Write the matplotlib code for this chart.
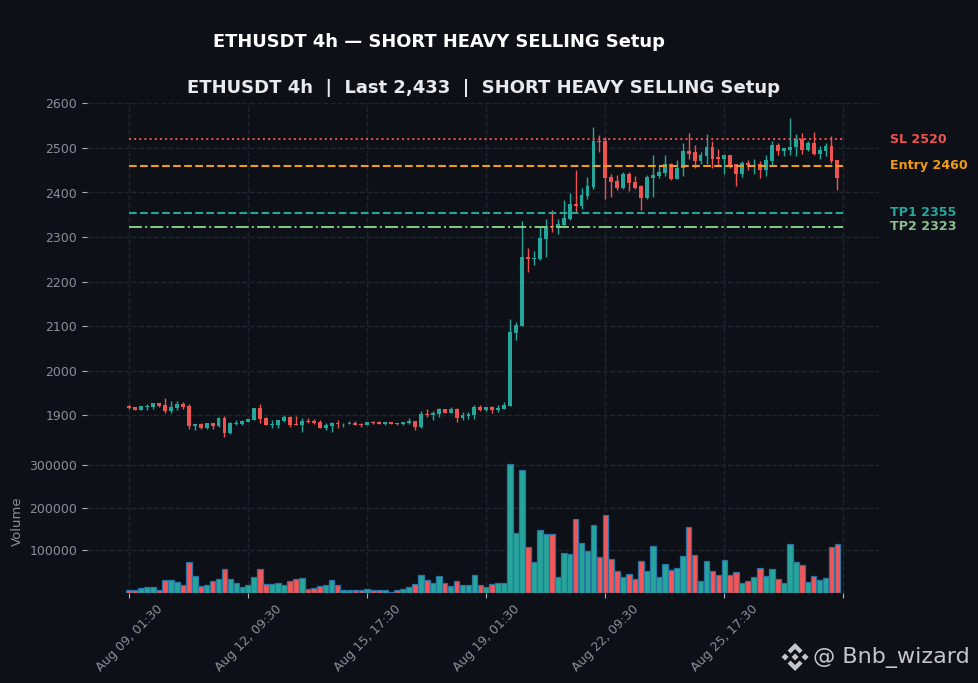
import matplotlib
matplotlib.use('Agg')
import matplotlib.pyplot as plt
from matplotlib.patches import Polygon

# candles, 4h bars from Aug 09 01:30
opens = [1921, 1918.7, 1912, 1918, 1919, 1928, 1923, 1910, 1916.5, 1925,
         1921, 1876, 1880.5, 1871.5, 1883, 1876, 1894, 1860, 1881, 1881,
         1885, 1889.5, 1916.5, 1894, 1878, 1878, 1887, 1896, 1880.5, 1878,
         1887, 1887, 1885, 1871.5, 1876, 1883, 1882, 1880.5, 1883, 1881,
         1878, 1885, 1885, 1880.5, 1885, 1883, 1880.5, 1883, 1887, 1874,
         1903, 1901, 1903, 1914, 1905, 1914, 1894, 1898.5, 1901, 1919,
         1912, 1919, 1912, 1914, 1921, 2085, 2100, 2255, 2251, 2250,
         2296, 2325, 2323, 2327, 2340, 2374, 2370, 2392, 2412, 2516,
         2516, 2434, 2425, 2410, 2441, 2423, 2414, 2387.5, 2432, 2436,
         2443, 2465, 2430, 2454, 2494, 2490, 2470, 2481, 2501, 2478.5,
         2476, 2483, 2465, 2441, 2467, 2460, 2463, 2450, 2470, 2507,
         2492, 2496, 2501, 2521, 2496, 2512, 2487, 2494, 2505, 2472]
closes = [1916.5, 1912, 1921, 1921, 1928, 1921, 1909, 1919, 1925, 1919,
          1876, 1880.5, 1871.5, 1883, 1876, 1894, 1860, 1883, 1883, 1887,
          1892, 1916.5, 1892, 1878, 1880.5, 1889.5, 1896, 1878, 1878, 1887,
          1885, 1883, 1871.5, 1878, 1883, 1880.5, 1883, 1883, 1878, 1879,
          1885, 1883, 1880.5, 1885, 1880.5, 1880.5, 1885, 1887, 1874, 1903,
          1901, 1905, 1914, 1905, 1914, 1894, 1901, 1903, 1919, 1912,
          1919, 1912, 1916.5, 1923, 2087, 2103, 2255, 2250, 2253, 2298,
          2323, 2322, 2329, 2342, 2374, 2370, 2394, 2414, 2516, 2514,
          2432, 2423, 2410, 2441, 2421, 2411, 2387.5, 2434, 2439, 2445,
          2465, 2430, 2456, 2494, 2487, 2470, 2483, 2501, 2476, 2476,
          2483, 2458.5, 2441, 2467, 2461, 2461, 2450, 2472, 2507, 2492,
          2499, 2503, 2521, 2496, 2512, 2487, 2496, 2505, 2470, 2432]
highs = [1922, 1919.5, 1921.5, 1925, 1928, 1928.5, 1938, 1931, 1931, 1929,
         1925, 1880.5, 1882, 1883, 1883, 1896, 1898.5, 1885, 1889, 1889,
         1892, 1917, 1925, 1896, 1889.5, 1889.5, 1901, 1898.5, 1898.5, 1894,
         1894, 1892, 1889.5, 1883, 1885, 1889.5, 1883, 1887, 1887, 1883,
         1885, 1886.5, 1886, 1885, 1885.5, 1883, 1885, 1894, 1887, 1910,
         1914, 1910, 1916.5, 1914, 1919, 1916.5, 1907.5, 1907.5, 1923, 1923,
         1919, 1921, 1923, 1930, 2116, 2109, 2336, 2275, 2269, 2322,
         2340, 2360, 2340, 2383, 2399, 2450, 2410, 2435, 2547, 2530,
         2525, 2442, 2439, 2445, 2445, 2436, 2416, 2439, 2484, 2461,
         2485, 2467, 2473, 2510, 2534, 2507, 2490, 2532, 2516, 2498.5,
         2485, 2483, 2465, 2470, 2473, 2476, 2471, 2485, 2516, 2512,
         2499, 2567, 2532, 2534, 2516, 2536, 2505, 2512, 2527, 2472]
lows = [1915, 1911, 1911.5, 1912, 1914, 1919.5, 1904.5, 1905, 1912, 1914,
        1869, 1867, 1870, 1870, 1869, 1874, 1851, 1858, 1878, 1879,
        1884, 1889, 1883, 1877, 1871.5, 1871.5, 1885, 1874, 1878, 1862.5,
        1883, 1880.5, 1871.5, 1867, 1862.5, 1871.5, 1874, 1880.5, 1878, 1874,
        1878, 1881, 1880, 1877, 1880, 1878, 1878, 1880.5, 1867, 1871.5,
        1896, 1890, 1896, 1904, 1904.5, 1885, 1889.5, 1892, 1892, 1910,
        1910, 1905, 1907.5, 1914, 1921, 2069, 2100, 2222, 2237, 2248,
        2256, 2311, 2307, 2325, 2338, 2357, 2362, 2385, 2408, 2490,
        2386, 2390.5, 2405, 2407, 2404, 2407, 2361, 2385, 2390, 2432,
        2436, 2427.5, 2430, 2436, 2474, 2454, 2465, 2465, 2456, 2461,
        2441, 2456, 2414, 2434, 2450, 2441, 2432, 2436, 2461, 2485,
        2481, 2485, 2481, 2487, 2494, 2485, 2476, 2481, 2467, 2405]
volumes = [6400, 6400, 11200, 13600, 13600, 6400, 30400, 30400, 25600, 18400,
           73600, 40000, 16000, 18400, 28000, 32800, 56800, 32800, 23200, 13600,
           18400, 37600, 56800, 20800, 20800, 23200, 18400, 28000, 32800, 35200,
           8800, 11200, 16000, 18400, 30400, 18400, 6400, 6400, 6400, 6400,
           8700, 6300, 6300, 6300, 3200, 6300, 8700, 13400, 20500, 41900,
           30000, 22900, 39500, 22900, 15800, 27600, 18200, 18200, 41900, 18200,
           13400, 20500, 22900, 22900, 302000, 141400, 288000, 108000, 72700, 148500,
           139000, 139000, 37000, 94000, 91600, 173800, 117700, 98700, 160000, 85000,
           183000, 80800, 52000, 37600, 44800, 32800, 76000, 52000, 109600, 37600,
           68800, 54400, 59200, 85600, 155200, 88000, 28000, 76000, 52000, 42400,
           78400, 42400, 49600, 23200, 28000, 37600, 59200, 40000, 56800, 32800,
           23200, 114400, 73600, 66400, 25600, 40000, 30400, 35200, 107200, 114400]

tick_pos = [0, 20, 40, 60, 80, 100, 120]
tick_labels = ['Aug 09, 01:30', 'Aug 12, 09:30', 'Aug 15, 17:30',
               'Aug 19, 01:30', 'Aug 22, 09:30', 'Aug 25, 17:30', '']
level_names = ['SL 2520', 'Entry 2460', 'TP1 2355', 'TP2 2323']
level_prices = [2520, 2460, 2355, 2323]
level_lines = ['#ef5350', '#f39c12', '#26a69a', '#81c784']
level_texts = ['#ef5350', '#f39c12', '#26a69a', '#8ebd8e']
level_styles = [':', '--', '--', '-.']
level_widths = [1.4, 1.5, 1.5, 1.45]

bg = '#0d1117'
up = '#26a69a'
down = '#ef5350'

fig = plt.figure(figsize=(9.781, 6.831), dpi=100, facecolor=bg)
ax = fig.add_axes([87 / 978, 1 - 450 / 683, 792 / 978, 347 / 683])
ax2 = fig.add_axes([87 / 978, 1 - 593 / 683, 792 / 978, 143 / 683])

x = list(range(len(opens)))
colors = [up if c >= o else down for o, c in zip(opens, closes)]
ax.vlines(x, lows, highs, colors=colors, linewidth=1)
ax.bar(x, [abs(c - o) for o, c in zip(opens, closes)], bottom=[min(o, c) for o, c in zip(opens, closes)],
       width=0.65, color=colors, linewidth=0)

for i in range(len(level_names)):
    ax.plot([0, 120], [level_prices[i], level_prices[i]], color=level_lines[i], linestyle=level_styles[i],
            linewidth=level_widths[i])
    ax.text(127.8, level_prices[i], level_names[i], color=level_texts[i], fontsize=9.1, fontweight='bold',
            va='center', clip_on=False)

vol_colors = ['#26a69a' if c == up else '#f55555' for c in colors]
ax2.bar(x, volumes, width=0.95, color=vol_colors, edgecolor='#2874a6', linewidth=0.9)

for a in (ax, ax2):
    a.set_facecolor(bg)
    a.set_xlim(-7.1, 126)
    a.grid(True, color='#20242d', linestyle='--', linewidth=1)
    a.set_axisbelow(True)
    for s in a.spines.values():
        s.set_visible(False)
    a.tick_params(color='#b0b3b8', labelcolor='#8a8f98', labelsize=9)
    a.set_xticks(tick_pos)

ax.set_ylim(1822, 2601)
ax.set_yticks(range(1900, 2601, 100))
ax.tick_params(axis='x', length=0, labelbottom=False)
ax.set_title('ETHUSDT 4h  |  Last 2,433  |  SHORT HEAVY SELLING Setup',
             color='#e8eaed', fontsize=13, fontweight='bold', pad=7)

ax2.set_ylim(0, 335300)
ax2.set_yticks([100000, 200000, 300000])
ax2.set_xticklabels(tick_labels, rotation=45, ha='center')
ax2.set_ylabel('Volume', color='#8a8f98', fontsize=9.5)

fig.text(439 / 978, 1 - 42 / 683, 'ETHUSDT 4h — SHORT HEAVY SELLING Setup', color='white',
         fontsize=12.9, fontweight='bold', ha='center', va='center')

# watermark
fig.text(813 / 978, 1 - 657 / 683, '@ Bnb_wizard', color='#c4c6c9', fontsize=16, va='center')
logo = fig.add_axes([781 / 978, 1 - 671 / 683, 28 / 978, 28 / 683])
logo.set_xlim(-14, 14)
logo.set_ylim(-14, 14)
logo.axis('off')
for pts in ([(0, 14), (7.5, 6.5), (4.5, 3.5), (0, 8), (-4.5, 3.5), (-7.5, 6.5)],
            [(0, -14), (7.5, -6.5), (4.5, -3.5), (0, -8), (-4.5, -3.5), (-7.5, -6.5)],
            [(0, 3.5), (3.5, 0), (0, -3.5), (-3.5, 0)],
            [(10, 3.5), (13.5, 0), (10, -3.5), (6.5, 0)],
            [(-10, 3.5), (-13.5, 0), (-10, -3.5), (-6.5, 0)]):
    logo.add_patch(Polygon(pts, closed=True, color='#c4c6c9', linewidth=0))

fig.savefig('out.png', dpi=100, facecolor=bg)
